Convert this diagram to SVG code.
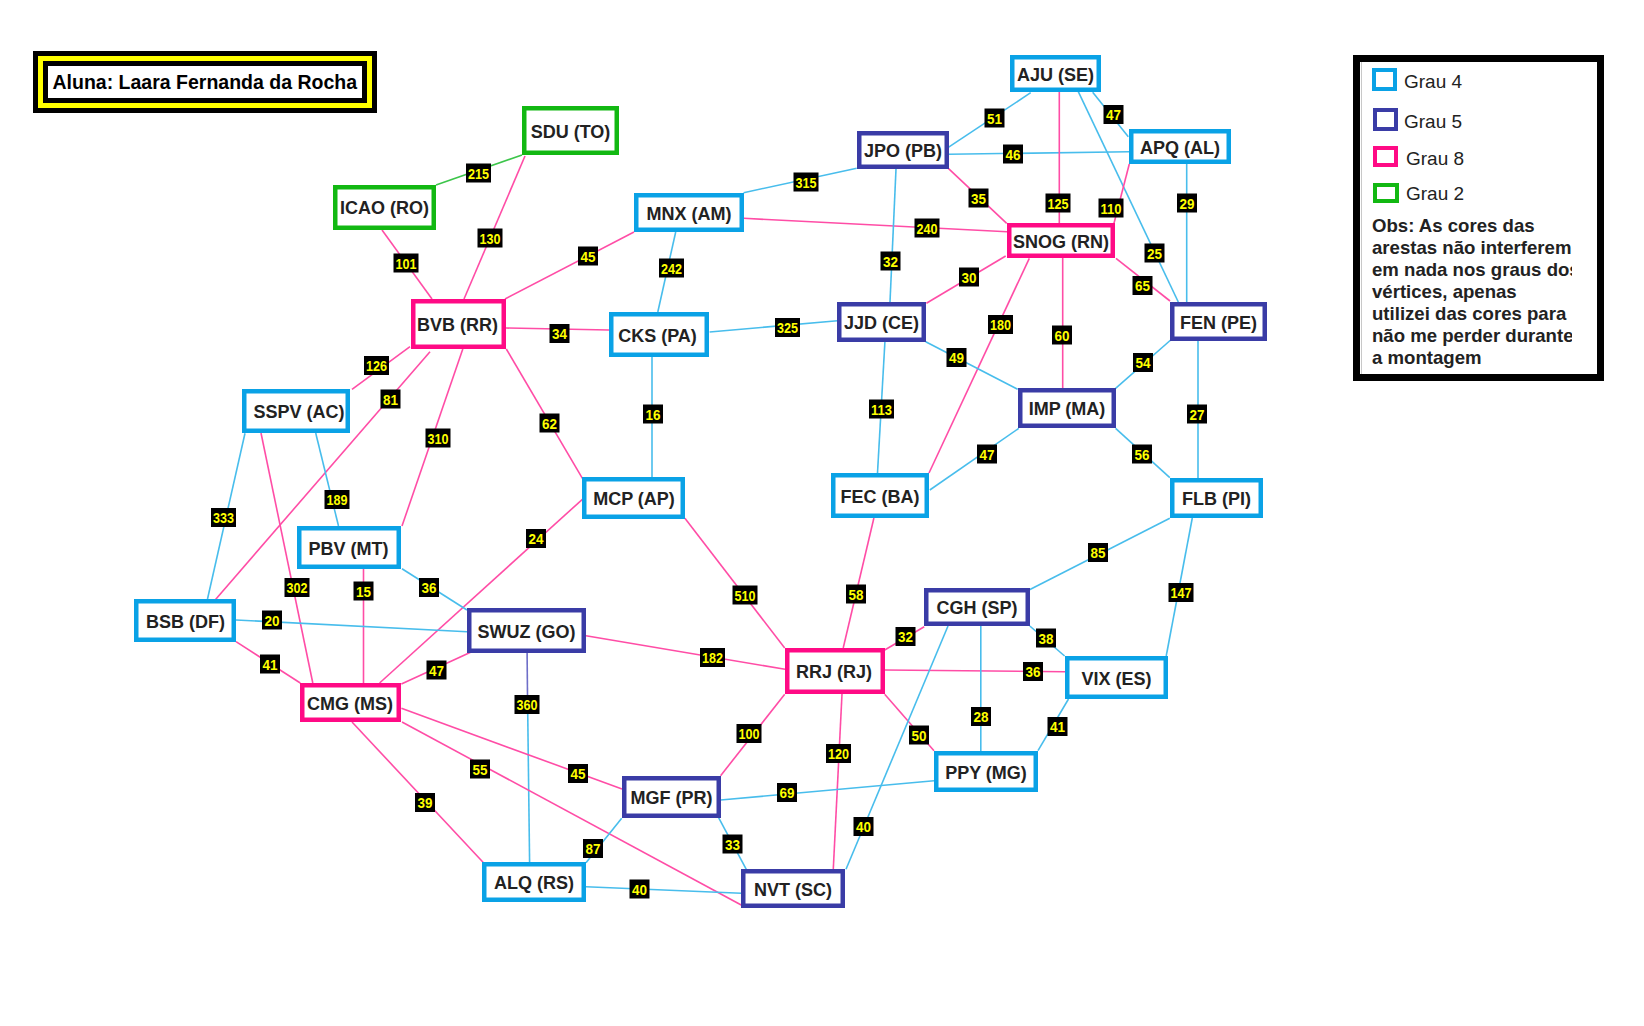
<svg xmlns="http://www.w3.org/2000/svg" width="1644" height="1026" viewBox="0 0 1644 1026">
<defs>
<style>
.n rect{fill:#fff;stroke-width:4.5}
.k4 rect{stroke:#0AA2E6}
.k5 rect{stroke:#3A3CA6}
.k8 rect{stroke:#FF0A85}
.k2 rect{stroke:#12B812}
.n text{font-family:"Liberation Sans",Arial,sans-serif;font-weight:bold;font-size:18px;fill:#222;text-anchor:middle}
#edges line{stroke-width:1.6;fill:none}
.c{stroke:#48BDEC}
.p{stroke:#FF4DA6}
.g{stroke:#3CC54A}
.i{stroke:#6E6EC8}
#labels rect{fill:#000}
#labels text{font-family:"Liberation Sans",Arial,sans-serif;font-weight:bold;font-size:15px;fill:#FFFF00;text-anchor:middle}
.lg{font-family:"Liberation Sans",Arial,sans-serif;font-size:19px;fill:#222}
.obs{font-family:"Liberation Sans",Arial,sans-serif;font-weight:bold;font-size:18.6px;fill:#222}
</style>
<clipPath id="obsclip"><rect x="1360" y="200" width="212" height="180"/></clipPath>
</defs>
<rect width="1644" height="1026" fill="#fff"/>

<g id="title">
<rect x="33" y="51" width="344" height="62" fill="#000"/>
<rect x="38" y="56" width="334" height="52" fill="#FFFF00"/>
<rect x="43" y="61" width="324" height="42" fill="#000"/>
<rect x="48" y="66" width="314" height="32" fill="#fff"/>
<text x="52.5" y="89" font-family="Liberation Sans, Arial, sans-serif" font-weight="bold" font-size="19.5" fill="#000">Aluna: Laara Fernanda da Rocha</text>
</g>

<g id="legend">
<rect x="1356.5" y="58.5" width="244" height="319" fill="#fff" stroke="#000" stroke-width="7"/>
<line x1="1361.5" y1="62" x2="1361.5" y2="374" stroke="#c8c8c8" stroke-width="1"/>
<rect x="1374" y="70" width="21" height="19" fill="none" stroke="#0AA2E6" stroke-width="4"/>
<text class="lg" x="1404" y="88">Grau 4</text>
<rect x="1375" y="110" width="21" height="19" fill="none" stroke="#3A3CA6" stroke-width="4"/>
<text class="lg" x="1404" y="128">Grau 5</text>
<rect x="1375" y="148" width="21" height="17" fill="none" stroke="#FF0A85" stroke-width="4"/>
<text class="lg" x="1406" y="165">Grau 8</text>
<rect x="1375" y="185" width="22" height="16" fill="none" stroke="#12B812" stroke-width="4"/>
<text class="lg" x="1406" y="200">Grau 2</text>
<g clip-path="url(#obsclip)">
<text class="obs" x="1372" y="232">Obs: As cores das</text>
<text class="obs" x="1372" y="254">arestas não interferem</text>
<text class="obs" x="1372" y="276">em nada nos graus dos</text>
<text class="obs" x="1372" y="298">vértices, apenas</text>
<text class="obs" x="1372" y="320">utilizei das cores para</text>
<text class="obs" x="1372" y="342">não me perder durante</text>
<text class="obs" x="1372" y="364">a montagem</text>
</g>
</g>

<g id="edges">
<line class="g" x1="436" y1="185" x2="522" y2="155"/>
<line class="p" x1="525" y1="156" x2="464" y2="299"/>
<line class="p" x1="382" y1="230" x2="432" y2="299"/>
<line class="p" x1="505" y1="299" x2="634" y2="232"/>
<line class="p" x1="506" y1="328" x2="609" y2="330"/>
<line class="p" x1="410" y1="346.7" x2="352" y2="389.3"/>
<line class="p" x1="430" y1="351.7" x2="213.6" y2="601.7"/>
<line class="p" x1="462.8" y1="349" x2="402" y2="526"/>
<line class="p" x1="506.3" y1="349" x2="582.4" y2="478.3"/>
<line class="c" x1="743.6" y1="192.7" x2="856.7" y2="168.3"/>
<line class="p" x1="743.6" y1="218.3" x2="1007" y2="231.7"/>
<line class="c" x1="675.7" y1="232" x2="657.8" y2="312"/>
<line class="c" x1="948.3" y1="147.3" x2="1030.7" y2="92.7"/>
<line class="c" x1="949" y1="154.3" x2="1129" y2="151.7"/>
<line class="p" x1="948.3" y1="168.3" x2="1006.7" y2="223.3"/>
<line class="c" x1="896" y1="169" x2="890" y2="302"/>
<line class="c" x1="1092.7" y1="92.3" x2="1128.3" y2="136.7"/>
<line class="p" x1="1059.3" y1="92" x2="1059.3" y2="223"/>
<line class="c" x1="1078.3" y1="91.7" x2="1178.3" y2="302"/>
<line class="p" x1="1129.3" y1="164" x2="1114" y2="223.3"/>
<line class="c" x1="1186.7" y1="164" x2="1186.7" y2="302"/>
<line class="p" x1="1116" y1="258.3" x2="1170" y2="301"/>
<line class="p" x1="1005.7" y1="256" x2="926.4" y2="303.3"/>
<line class="p" x1="1029.3" y1="258.3" x2="929" y2="473"/>
<line class="p" x1="1062.7" y1="258" x2="1062.7" y2="388"/>
<line class="c" x1="709.6" y1="332" x2="837.5" y2="320.7"/>
<line class="c" x1="652" y1="357" x2="652" y2="477"/>
<line class="c" x1="925.7" y1="341.7" x2="1017.6" y2="389.3"/>
<line class="c" x1="884.9" y1="342" x2="877.5" y2="473"/>
<line class="c" x1="1170.7" y1="340" x2="1115.6" y2="388.3"/>
<line class="c" x1="1198" y1="341" x2="1198" y2="478"/>
<line class="c" x1="1018.8" y1="428.3" x2="929.8" y2="490"/>
<line class="c" x1="1115.6" y1="428.3" x2="1169.8" y2="477.7"/>
<line class="c" x1="245" y1="433.3" x2="207.5" y2="599"/>
<line class="p" x1="261" y1="433" x2="312.8" y2="683"/>
<line class="c" x1="315.7" y1="433" x2="338.5" y2="526"/>
<line class="p" x1="582.4" y1="499.3" x2="379.6" y2="683"/>
<line class="p" x1="684.9" y1="518.3" x2="784.7" y2="648"/>
<line class="p" x1="873.9" y1="518" x2="843.2" y2="648"/>
<line class="c" x1="1169.8" y1="518.3" x2="1029" y2="590"/>
<line class="c" x1="1192.3" y1="518" x2="1166.2" y2="656"/>
<line class="p" x1="363.5" y1="569" x2="363.5" y2="683"/>
<line class="c" x1="402" y1="568.7" x2="467" y2="610"/>
<line class="c" x1="236" y1="620" x2="467" y2="631.7"/>
<line class="p" x1="236" y1="641.7" x2="300.3" y2="683"/>
<line class="p" x1="471.7" y1="651.7" x2="401.4" y2="684"/>
<line class="p" x1="586" y1="635.7" x2="785" y2="669.3"/>
<line class="i" x1="527.1" y1="653" x2="527.5" y2="695"/>
<line class="c" x1="527.5" y1="695" x2="529.6" y2="862"/>
<line class="p" x1="401.4" y1="708.3" x2="622" y2="789"/>
<line class="p" x1="402" y1="722" x2="741.2" y2="905"/>
<line class="p" x1="352" y1="722" x2="483.5" y2="862.7"/>
<line class="c" x1="586" y1="862.7" x2="621.7" y2="818.3"/>
<line class="c" x1="586" y1="886.7" x2="741.2" y2="893.3"/>
<line class="p" x1="884.7" y1="650" x2="924.2" y2="626.7"/>
<line class="p" x1="885" y1="670" x2="1065" y2="671.7"/>
<line class="p" x1="784.7" y1="694.3" x2="720.6" y2="775.7"/>
<line class="p" x1="842" y1="694" x2="833.3" y2="869"/>
<line class="p" x1="884.7" y1="694.3" x2="934" y2="750.7"/>
<line class="c" x1="1029.8" y1="626" x2="1064.6" y2="656"/>
<line class="c" x1="980.8" y1="626" x2="980.8" y2="751"/>
<line class="c" x1="948" y1="626" x2="846" y2="869.3"/>
<line class="c" x1="1068.5" y1="699" x2="1038" y2="750.7"/>
<line class="c" x1="720.6" y1="800" x2="934" y2="780.7"/>
<line class="c" x1="718.6" y1="817.7" x2="746.3" y2="869.3"/>
</g>

<g id="labels">
<rect x="466" y="163.5" width="25" height="19"/><text x="478.5" y="178.5" textLength="21" lengthAdjust="spacingAndGlyphs">215</text>
<rect x="477.5" y="228.5" width="25" height="19"/><text x="490" y="243.5" textLength="21" lengthAdjust="spacingAndGlyphs">130</text>
<rect x="393.5" y="253.5" width="25" height="19"/><text x="406" y="268.5" textLength="21" lengthAdjust="spacingAndGlyphs">101</text>
<rect x="578" y="246.5" width="20" height="19"/><text x="588" y="261.5" textLength="15" lengthAdjust="spacingAndGlyphs">45</text>
<rect x="549.5" y="324" width="20" height="19"/><text x="559.5" y="339" textLength="15" lengthAdjust="spacingAndGlyphs">34</text>
<rect x="364" y="356" width="25" height="19"/><text x="376.5" y="371" textLength="21" lengthAdjust="spacingAndGlyphs">126</text>
<rect x="380.5" y="389.5" width="20" height="19"/><text x="390.5" y="404.5" textLength="15" lengthAdjust="spacingAndGlyphs">81</text>
<rect x="425.5" y="428.5" width="25" height="19"/><text x="438" y="443.5" textLength="21" lengthAdjust="spacingAndGlyphs">310</text>
<rect x="539.5" y="413.5" width="20" height="19"/><text x="549.5" y="428.5" textLength="15" lengthAdjust="spacingAndGlyphs">62</text>
<rect x="793.5" y="172.5" width="25" height="19"/><text x="806" y="187.5" textLength="21" lengthAdjust="spacingAndGlyphs">315</text>
<rect x="914.5" y="218.5" width="25" height="19"/><text x="927" y="233.5" textLength="21" lengthAdjust="spacingAndGlyphs">240</text>
<rect x="659" y="258.5" width="25" height="19"/><text x="671.5" y="273.5" textLength="21" lengthAdjust="spacingAndGlyphs">242</text>
<rect x="984.5" y="108.5" width="20" height="19"/><text x="994.5" y="123.5" textLength="15" lengthAdjust="spacingAndGlyphs">51</text>
<rect x="1003" y="144.5" width="20" height="19"/><text x="1013" y="159.5" textLength="15" lengthAdjust="spacingAndGlyphs">46</text>
<rect x="968.5" y="188.5" width="20" height="19"/><text x="978.5" y="203.5" textLength="15" lengthAdjust="spacingAndGlyphs">35</text>
<rect x="880.5" y="251.5" width="20" height="19"/><text x="890.5" y="266.5" textLength="15" lengthAdjust="spacingAndGlyphs">32</text>
<rect x="1103.5" y="105" width="20" height="19"/><text x="1113.5" y="120" textLength="15" lengthAdjust="spacingAndGlyphs">47</text>
<rect x="1045.5" y="193.5" width="25" height="19"/><text x="1058" y="208.5" textLength="21" lengthAdjust="spacingAndGlyphs">125</text>
<rect x="1144.5" y="243.5" width="20" height="19"/><text x="1154.5" y="258.5" textLength="15" lengthAdjust="spacingAndGlyphs">25</text>
<rect x="1098.5" y="198.5" width="25" height="19"/><text x="1111" y="213.5" textLength="21" lengthAdjust="spacingAndGlyphs">110</text>
<rect x="1177" y="193.5" width="20" height="19"/><text x="1187" y="208.5" textLength="15" lengthAdjust="spacingAndGlyphs">29</text>
<rect x="1132.5" y="276" width="20" height="19"/><text x="1142.5" y="291" textLength="15" lengthAdjust="spacingAndGlyphs">65</text>
<rect x="959" y="267.5" width="20" height="19"/><text x="969" y="282.5" textLength="15" lengthAdjust="spacingAndGlyphs">30</text>
<rect x="988" y="315" width="25" height="19"/><text x="1000.5" y="330" textLength="21" lengthAdjust="spacingAndGlyphs">180</text>
<rect x="1052" y="325.5" width="20" height="19"/><text x="1062" y="340.5" textLength="15" lengthAdjust="spacingAndGlyphs">60</text>
<rect x="775" y="318" width="25" height="19"/><text x="787.5" y="333" textLength="21" lengthAdjust="spacingAndGlyphs">325</text>
<rect x="643" y="404.5" width="20" height="19"/><text x="653" y="419.5" textLength="15" lengthAdjust="spacingAndGlyphs">16</text>
<rect x="946.5" y="348" width="20" height="19"/><text x="956.5" y="363" textLength="15" lengthAdjust="spacingAndGlyphs">49</text>
<rect x="869" y="399.5" width="25" height="19"/><text x="881.5" y="414.5" textLength="21" lengthAdjust="spacingAndGlyphs">113</text>
<rect x="1133" y="353" width="20" height="19"/><text x="1143" y="368" textLength="15" lengthAdjust="spacingAndGlyphs">54</text>
<rect x="1187" y="404.5" width="20" height="19"/><text x="1197" y="419.5" textLength="15" lengthAdjust="spacingAndGlyphs">27</text>
<rect x="977" y="444.5" width="20" height="19"/><text x="987" y="459.5" textLength="15" lengthAdjust="spacingAndGlyphs">47</text>
<rect x="1132" y="444.5" width="20" height="19"/><text x="1142" y="459.5" textLength="15" lengthAdjust="spacingAndGlyphs">56</text>
<rect x="211" y="508" width="25" height="19"/><text x="223.5" y="523" textLength="21" lengthAdjust="spacingAndGlyphs">333</text>
<rect x="284.5" y="578" width="25" height="19"/><text x="297" y="593" textLength="21" lengthAdjust="spacingAndGlyphs">302</text>
<rect x="324.5" y="490" width="25" height="19"/><text x="337" y="505" textLength="21" lengthAdjust="spacingAndGlyphs">189</text>
<rect x="526" y="529" width="20" height="19"/><text x="536" y="544" textLength="15" lengthAdjust="spacingAndGlyphs">24</text>
<rect x="732.5" y="585.5" width="25" height="19"/><text x="745" y="600.5" textLength="21" lengthAdjust="spacingAndGlyphs">510</text>
<rect x="846" y="584.5" width="20" height="19"/><text x="856" y="599.5" textLength="15" lengthAdjust="spacingAndGlyphs">58</text>
<rect x="1088" y="543" width="20" height="19"/><text x="1098" y="558" textLength="15" lengthAdjust="spacingAndGlyphs">85</text>
<rect x="1168.5" y="583" width="25" height="19"/><text x="1181" y="598" textLength="21" lengthAdjust="spacingAndGlyphs">147</text>
<rect x="353.5" y="581.5" width="20" height="19"/><text x="363.5" y="596.5" textLength="15" lengthAdjust="spacingAndGlyphs">15</text>
<rect x="419" y="578" width="20" height="19"/><text x="429" y="593" textLength="15" lengthAdjust="spacingAndGlyphs">36</text>
<rect x="262" y="610.5" width="20" height="19"/><text x="272" y="625.5" textLength="15" lengthAdjust="spacingAndGlyphs">20</text>
<rect x="260" y="654.5" width="20" height="19"/><text x="270" y="669.5" textLength="15" lengthAdjust="spacingAndGlyphs">41</text>
<rect x="426.5" y="660.5" width="20" height="19"/><text x="436.5" y="675.5" textLength="15" lengthAdjust="spacingAndGlyphs">47</text>
<rect x="700" y="648" width="25" height="19"/><text x="712.5" y="663" textLength="21" lengthAdjust="spacingAndGlyphs">182</text>
<rect x="514.5" y="695" width="25" height="19"/><text x="527" y="710" textLength="21" lengthAdjust="spacingAndGlyphs">360</text>
<rect x="568" y="764" width="20" height="19"/><text x="578" y="779" textLength="15" lengthAdjust="spacingAndGlyphs">45</text>
<rect x="470" y="759.5" width="20" height="19"/><text x="480" y="774.5" textLength="15" lengthAdjust="spacingAndGlyphs">55</text>
<rect x="415" y="793" width="20" height="19"/><text x="425" y="808" textLength="15" lengthAdjust="spacingAndGlyphs">39</text>
<rect x="583" y="839" width="20" height="19"/><text x="593" y="854" textLength="15" lengthAdjust="spacingAndGlyphs">87</text>
<rect x="629.5" y="879.5" width="20" height="19"/><text x="639.5" y="894.5" textLength="15" lengthAdjust="spacingAndGlyphs">40</text>
<rect x="895.5" y="627" width="20" height="19"/><text x="905.5" y="642" textLength="15" lengthAdjust="spacingAndGlyphs">32</text>
<rect x="1023" y="662" width="20" height="19"/><text x="1033" y="677" textLength="15" lengthAdjust="spacingAndGlyphs">36</text>
<rect x="736.5" y="724" width="25" height="19"/><text x="749" y="739" textLength="21" lengthAdjust="spacingAndGlyphs">100</text>
<rect x="826" y="744" width="25" height="19"/><text x="838.5" y="759" textLength="21" lengthAdjust="spacingAndGlyphs">120</text>
<rect x="909" y="725.5" width="20" height="19"/><text x="919" y="740.5" textLength="15" lengthAdjust="spacingAndGlyphs">50</text>
<rect x="1036" y="628.5" width="20" height="19"/><text x="1046" y="643.5" textLength="15" lengthAdjust="spacingAndGlyphs">38</text>
<rect x="971" y="707" width="20" height="19"/><text x="981" y="722" textLength="15" lengthAdjust="spacingAndGlyphs">28</text>
<rect x="1047.5" y="717" width="20" height="19"/><text x="1057.5" y="732" textLength="15" lengthAdjust="spacingAndGlyphs">41</text>
<rect x="777" y="783" width="20" height="19"/><text x="787" y="798" textLength="15" lengthAdjust="spacingAndGlyphs">69</text>
<rect x="853.5" y="817" width="20" height="19"/><text x="863.5" y="832" textLength="15" lengthAdjust="spacingAndGlyphs">40</text>
<rect x="722.5" y="834.5" width="20" height="19"/><text x="732.5" y="849.5" textLength="15" lengthAdjust="spacingAndGlyphs">33</text>
</g>

<g id="node-sdu" class="n k2"><rect x="524.25" y="108.25" width="92.5" height="44.5"/><text x="570.5" y="137.5">SDU (TO)</text></g>
<g id="node-icao" class="n k2"><rect x="335.25" y="187.25" width="98.5" height="40.5"/><text x="384.5" y="214">ICAO (RO)</text></g>
<g id="node-bvb" class="n k8"><rect x="413.25" y="301.25" width="90.5" height="45.5"/><text x="457.5" y="331">BVB (RR)</text></g>
<g id="node-mnx" class="n k4"><rect x="636.25" y="195.25" width="105.5" height="34.5"/><text x="689" y="219.5">MNX (AM)</text></g>
<g id="node-jpo" class="n k5"><rect x="859.25" y="133.25" width="87.5" height="33.5"/><text x="903" y="157">JPO (PB)</text></g>
<g id="node-aju" class="n k4"><rect x="1012.25" y="57.25" width="86.5" height="32.5"/><text x="1055.5" y="80.5">AJU (SE)</text></g>
<g id="node-apq" class="n k4"><rect x="1131.25" y="131.25" width="97.5" height="30.5"/><text x="1180" y="153.5">APQ (AL)</text></g>
<g id="node-snog" class="n k8"><rect x="1009.25" y="225.25" width="103.5" height="30.5"/><text x="1061" y="247.5">SNOG (RN)</text></g>
<g id="node-fen" class="n k5"><rect x="1172.25" y="304.25" width="92.5" height="34.5"/><text x="1218.5" y="328.5">FEN (PE)</text></g>
<g id="node-cks" class="n k4"><rect x="611.25" y="314.25" width="95.5" height="40.5"/><text x="657.5" y="341.5">CKS (PA)</text></g>
<g id="node-jjd" class="n k5"><rect x="839.25" y="304.25" width="84.5" height="35.5"/><text x="881.5" y="329">JJD (CE)</text></g>
<g id="node-imp" class="n k5"><rect x="1020.25" y="390.25" width="93.5" height="35.5"/><text x="1067" y="415">IMP (MA)</text></g>
<g id="node-sspv" class="n k4"><rect x="244.25" y="391.25" width="103.5" height="39.5"/><text x="299" y="418">SSPV (AC)</text></g>
<g id="node-mcp" class="n k4"><rect x="584.25" y="479.25" width="98.5" height="37.5"/><text x="634" y="505">MCP (AP)</text></g>
<g id="node-fec" class="n k4"><rect x="833.25" y="475.25" width="93.5" height="40.5"/><text x="880" y="502.5">FEC (BA)</text></g>
<g id="node-flb" class="n k4"><rect x="1172.25" y="480.25" width="88.5" height="35.5"/><text x="1216.5" y="505">FLB (PI)</text></g>
<g id="node-pbv" class="n k4"><rect x="299.25" y="528.25" width="99.5" height="38.5"/><text x="348.5" y="554.5">PBV (MT)</text></g>
<g id="node-bsb" class="n k4"><rect x="136.25" y="601.25" width="97.5" height="38.5"/><text x="185.5" y="627.5">BSB (DF)</text></g>
<g id="node-swuz" class="n k5"><rect x="469.25" y="610.25" width="114.5" height="40.5"/><text x="526.5" y="637.5">SWUZ (GO)</text></g>
<g id="node-cgh" class="n k5"><rect x="926.25" y="590.25" width="101.5" height="33.5"/><text x="977" y="614">CGH (SP)</text></g>
<g id="node-rrj" class="n k8"><rect x="787.25" y="650.25" width="95.5" height="41.5"/><text x="834" y="678">RRJ (RJ)</text></g>
<g id="node-vix" class="n k4"><rect x="1067.25" y="658.25" width="98.5" height="38.5"/><text x="1116.5" y="684.5">VIX (ES)</text></g>
<g id="node-cmg" class="n k8"><rect x="302.25" y="685.25" width="96.5" height="34.5"/><text x="350" y="709.5">CMG (MS)</text></g>
<g id="node-ppy" class="n k4"><rect x="936.25" y="753.25" width="99.5" height="36.5"/><text x="986" y="778.5">PPY (MG)</text></g>
<g id="node-mgf" class="n k5"><rect x="624.25" y="778.25" width="94.5" height="37.5"/><text x="671.5" y="804">MGF (PR)</text></g>
<g id="node-alq" class="n k4"><rect x="484.25" y="864.25" width="99.5" height="35.5"/><text x="534" y="889">ALQ (RS)</text></g>
<g id="node-nvt" class="n k5"><rect x="743.25" y="871.25" width="99.5" height="34.5"/><text x="793" y="895.5">NVT (SC)</text></g>
</svg>
